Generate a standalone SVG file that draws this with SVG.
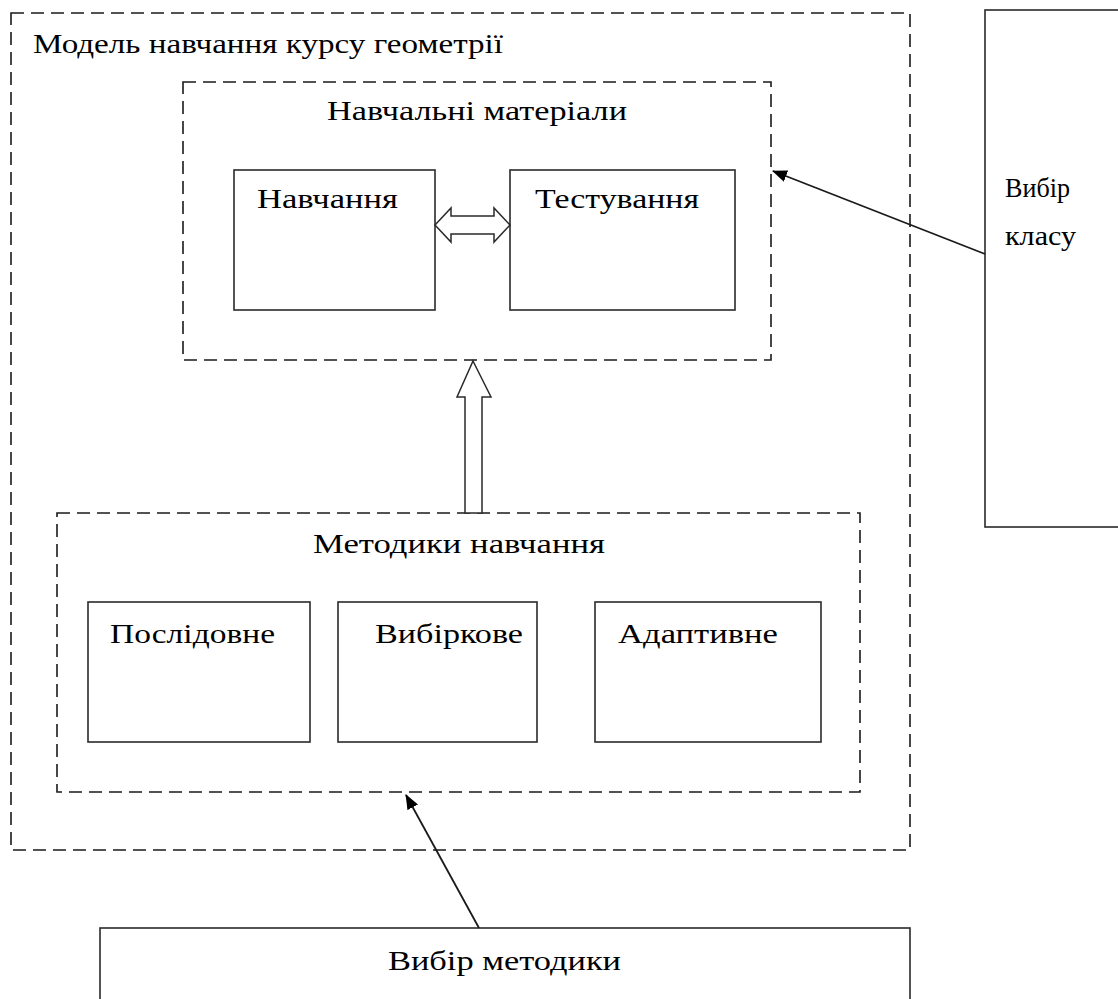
<svg xmlns="http://www.w3.org/2000/svg" width="1118" height="999" viewBox="0 0 1118 999">
  <defs>
    <marker id="arrowhead" viewBox="0 0 15 12" refX="14" refY="6" markerWidth="15" markerHeight="12" markerUnits="userSpaceOnUse" orient="auto">
      <path d="M0,0 L15,6 L0,12 Z" fill="#000"/>
    </marker>
    <style>
      .dash { fill: none; stroke: #1a1a1a; stroke-width: 1.6; stroke-dasharray: 13 7; }
      .box { fill: #fff; stroke: #2a2a2a; stroke-width: 1.6; }
      text { font-family: 'Liberation Serif', 'Times New Roman', Tinos, 'Noto Serif', 'DejaVu Serif', serif; font-size: 28px; fill: #000; }
      .line { fill: none; stroke: #1a1a1a; stroke-width: 1.8; marker-end: url(#arrowhead); }
      .block { fill: #fff; stroke: #2a2a2a; stroke-width: 1.5; stroke-linejoin: miter; }
    </style>
  </defs>
  <rect width="1118" height="999" fill="#fff"/>

  <!-- outer container: course model -->
  <g id="model">
    <rect class="dash" x="11" y="13" width="899" height="837"/>
    <text x="33" y="53" textLength="470" lengthAdjust="spacingAndGlyphs">Модель навчання курсу геометрії</text>
  </g>

  <!-- learning materials group -->
  <g id="materials">
    <rect class="dash" x="183" y="82" width="588" height="278"/>
    <text x="327" y="120" textLength="300" lengthAdjust="spacingAndGlyphs">Навчальні матеріали</text>
  </g>
  <g id="learning">
    <rect class="box" x="234" y="170" width="201" height="140"/>
    <text x="257" y="208" textLength="141" lengthAdjust="spacingAndGlyphs">Навчання</text>
  </g>
  <g id="testing">
    <rect class="box" x="510" y="170" width="225" height="140"/>
    <text x="535" y="208" textLength="164" lengthAdjust="spacingAndGlyphs">Тестування</text>
  </g>

  <!-- teaching methods group -->
  <g id="methods">
    <rect class="dash" x="57" y="513" width="803" height="279"/>
    <text x="313" y="553" textLength="292" lengthAdjust="spacingAndGlyphs">Методики навчання</text>
  </g>
  <g id="sequential">
    <rect class="box" x="88" y="602" width="222" height="140"/>
    <text x="110" y="643" textLength="165" lengthAdjust="spacingAndGlyphs">Послідовне</text>
  </g>
  <g id="selective">
    <rect class="box" x="338" y="602" width="199" height="140"/>
    <text x="375" y="643" textLength="148" lengthAdjust="spacingAndGlyphs">Вибіркове</text>
  </g>
  <g id="adaptive">
    <rect class="box" x="595" y="602" width="226" height="140"/>
    <text x="618" y="643" textLength="160" lengthAdjust="spacingAndGlyphs">Адаптивне</text>
  </g>

  <!-- external inputs -->
  <g id="class-choice">
    <rect class="box" x="985" y="10" width="140" height="517"/>
    <text x="1005" y="197" textLength="65" lengthAdjust="spacingAndGlyphs">Вибір</text>
    <text x="1005" y="245" textLength="71" lengthAdjust="spacingAndGlyphs">класу</text>
  </g>
  <g id="method-choice">
    <rect class="box" x="100" y="928" width="810" height="80"/>
    <text x="388" y="970" textLength="233" lengthAdjust="spacingAndGlyphs">Вибір методики</text>
  </g>

  <!-- connectors -->
  <g id="connectors">
    <!-- two-way block arrow between learning and testing -->
    <path class="block" d="M435,225 L451,208 L451,216 L494,216 L494,208 L510,225 L494,242 L494,234 L451,234 L451,242 Z"/>
    <!-- block arrow from methods up to materials -->
    <path class="block" d="M473,361 L491,397 L482,397 L482,513 L465,513 L465,397 L457,397 Z"/>
    <!-- class choice feeds materials -->
    <line class="line" x1="985" y1="254" x2="773" y2="171"/>
    <!-- method choice feeds methods -->
    <line class="line" x1="479" y1="928" x2="406" y2="795"/>
  </g>
</svg>
